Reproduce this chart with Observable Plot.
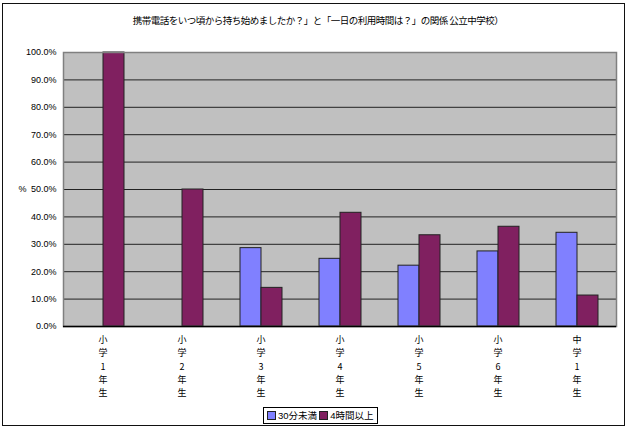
<!DOCTYPE html>
<html><head><meta charset="utf-8">
<script src="https://cdn.jsdelivr.net/npm/d3@7"></script>
<script src="https://cdn.jsdelivr.net/npm/@observablehq/plot@0.6"></script>
<style>
body{margin:0;background:#fff;font-family:"Noto Sans CJK JP",sans-serif;}
#wrap{position:relative;width:629px;height:430px;overflow:hidden;}
#frame{position:absolute;left:2px;top:3px;width:621px;height:421px;border:1.5px solid #111;}
#title{position:absolute;top:13px;left:0;width:636px;text-align:center;font-size:9.5px;letter-spacing:-0.5px;color:#000;}
#legend{position:absolute;left:263px;top:407px;height:15px;border:1px solid #000;font-size:9.5px;line-height:15px;padding:0 3px 0 3px;white-space:nowrap;background:#fff;}
#legend span.sw{display:inline-block;width:7px;height:7px;border:1px solid #222;margin-right:2px;vertical-align:-1px;}
#legend span.num{font-family:"Liberation Sans",sans-serif;font-size:9.5px;}
#plot{position:absolute;left:0;top:0;}
</style></head><body>
<div id="wrap"><div id="frame"></div><div id="plot"></div><div id="title"></div><div id="legend"></div></div>
<script>
const titleText = "携帯電話をいつ頃から持ち始めましたか？」と「一日の利用時間は？」の関係  公立中学校）";
const grades = ["小学1年生","小学2年生","小学3年生","小学4年生","小学5年生","小学6年生","中学1年生"];
const seriesNames = ["30分未満","4時間以上"];
const under30 = [0, 0, 28.6, 24.7, 22.2, 27.4, 34.2];
const over4h = [100, 50, 14.1, 41.5, 33.3, 36.4, 11.3];
const yTicks = [0,10,20,30,40,50,60,70,80,90,100];
const colors = ["#8080FF","#802060"];

const data = [];
grades.forEach((g,i)=>{
  data.push({grade:g, series:seriesNames[0], value:under30[i]});
  data.push({grade:g, series:seriesNames[1], value:over4h[i]});
});

document.getElementById("title").textContent = titleText;

const numFont = '"Liberation Sans",sans-serif';

const chart = Plot.plot({
  width: 629, height: 430,
  marginLeft: 60, marginRight: 11, marginTop: 52, marginBottom: 104,
  style: {fontFamily: '"Noto Sans CJK JP", sans-serif', fontSize: "10px", background: "transparent"},
  fx: {domain: grades, padding: 0, label: null},
  x: {domain: seriesNames, paddingInner: 0, paddingOuter: 0.81, axis: null, label: null},
  y: {domain: [0,100], label: null},
  color: {domain: seriesNames, range: colors},
  marks: [
    Plot.frame({facet: "super", fill: "#C0C0C0", stroke: null}),
    Plot.gridY(yTicks, {stroke: "#222", strokeOpacity: 1, strokeWidth: 1}),
    Plot.barY(data, {
      fx: "grade", x: "series", y: "value", fill: "series",
      stroke: "#222", strokeWidth: 1
    }),
    Plot.frame({facet: "super", stroke: "#808080", strokeWidth: 1.5, fill: null}),
    Plot.axisY(yTicks, {tickSize: 0, tickPadding: 7, tickFormat: d => d.toFixed(1) + "%", fontSize: 9, fontFamily: numFont, fill: "#000"}),
    Plot.axisFx({anchor: "bottom", tickSize: 0, tickPadding: 7, tickFormat: d => d.split("").join("\n"), lineHeight: 1.48, fontSize: 9, fill: "#000"}),
    Plot.ruleY([0], {stroke: "#000", strokeWidth: 1.5}),
    Plot.text(["%"], {facet: "super", frameAnchor: "left", dx: -45, fontSize: 9, fontFamily: numFont, fill: "#000"})
  ]
});
document.getElementById("plot").appendChild(chart);

const lg = document.getElementById("legend");
seriesNames.forEach((s,i)=>{
  const sw = document.createElement("span"); sw.className="sw"; sw.style.background = colors[i];
  lg.appendChild(sw);
  const m = s.match(/^(\d+)(.*)$/);
  const num = document.createElement("span"); num.className = "num"; num.textContent = m[1];
  lg.appendChild(num);
  lg.appendChild(document.createTextNode(m[2] + (i===0 ? " " : "")));
});
</script>
</body></html>
